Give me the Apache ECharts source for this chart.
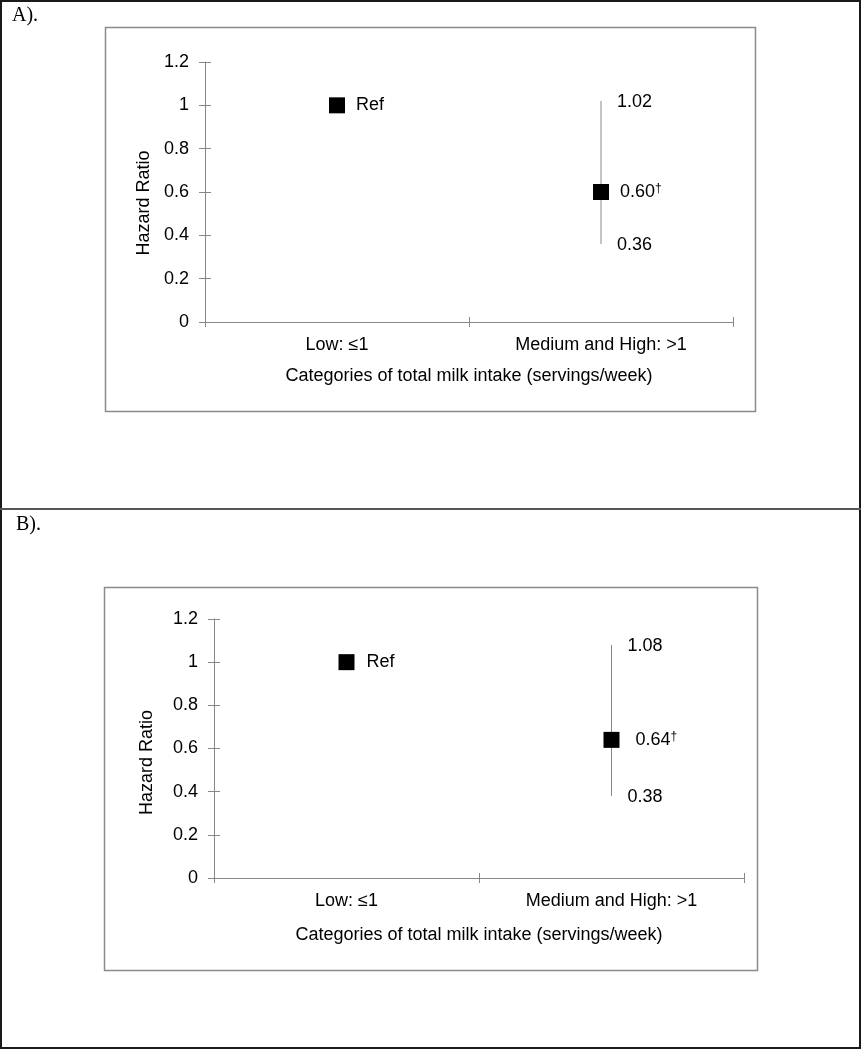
<!DOCTYPE html>
<html>
<head>
<meta charset="utf-8">
<script src="https://cdn.jsdelivr.net/npm/echarts@6/dist/echarts.min.js"></script>
<style>
  html, body { margin: 0; padding: 0; background: #fff; }
  #chart { width: 862px; height: 1050px; }
</style>
</head>
<body>
<div id="chart"></div>
<script>
// ---- data ----
const categories = ['Low: ≤1', 'Medium and High: >1'];
const yTicks = [0, 0.2, 0.4, 0.6, 0.8, 1, 1.2];
const xTitle = 'Categories of total milk intake (servings/week)';
const yTitle = 'Hazard Ratio';
const panelTitles = ['A).', 'B).'];

const hrA = [1, 0.60];
const lowerA = [null, 0.36];
const upperA = [null, 1.02];
const pointLabelsA = ['Ref', '0.60{sup|†}'];

const hrB = [1, 0.64];
const lowerB = [null, 0.38];
const upperB = [null, 1.08];
const pointLabelsB = ['Ref', '0.64{sup|†}'];

// ---- styling ----
const FONT = 'Liberation Sans, Arial, sans-serif';
const FS = 18;
const AXIS_COLOR = '#878787';

const chart = echarts.init(document.getElementById('chart'), null, { renderer: 'canvas' });

const panels = [
  { hr: hrA, lo: lowerA, hi: upperA, labels: pointLabelsA,
    grid: { left: 205, top: 62, width: 528, height: 260 },
    yNameGap: 50, yNamePad: [0, 22, 0, 0], xNameGap: 45, labelDist: [11, 11] },
  { hr: hrB, lo: lowerB, hi: upperB, labels: pointLabelsB,
    grid: { left: 214, top: 619, width: 530, height: 259 },
    yNameGap: 58, yNamePad: [0, 28, 0, 0], xNameGap: 48, labelDist: [12, 16] }
];

const grids = [], xAxes = [], yAxes = [], series = [];

panels.forEach((p, k) => {
  grids.push(Object.assign({ containLabel: false }, p.grid));
  // main x axis (ticks outward, labels, name)
  xAxes.push({
    gridIndex: k, type: 'category', data: categories, position: 'bottom',
    boundaryGap: true,
    axisLine: { show: true, lineStyle: { color: AXIS_COLOR, width: 1 } },
    axisTick: { show: true, inside: false, length: 5, alignWithLabel: false, lineStyle: { color: AXIS_COLOR } },
    axisLabel: { color: '#000', fontFamily: FONT, fontSize: FS, margin: 14 },
    splitLine: { show: false },
    name: xTitle, nameLocation: 'middle', nameGap: p.xNameGap,
    nameTextStyle: { color: '#000', fontFamily: FONT, fontSize: FS }
  });
  // companion x axis for the inward half of the cross ticks
  xAxes.push({
    gridIndex: k, type: 'category', data: categories, position: 'bottom',
    boundaryGap: true,
    axisLine: { show: false },
    axisTick: { show: true, inside: true, length: 5, alignWithLabel: false, lineStyle: { color: AXIS_COLOR } },
    axisLabel: { show: false }, splitLine: { show: false }
  });
  yAxes.push({
    gridIndex: k, type: 'value', min: yTicks[0], max: yTicks[yTicks.length - 1], interval: 0.2,
    position: 'left',
    axisLine: { show: true, lineStyle: { color: AXIS_COLOR, width: 1 } },
    axisTick: { show: true, inside: false, length: 6, lineStyle: { color: AXIS_COLOR } },
    axisLabel: { color: '#000', fontFamily: FONT, fontSize: FS, margin: 16 },
    splitLine: { show: false },
    name: yTitle, nameLocation: 'middle', nameRotate: 90, nameGap: p.yNameGap,
    nameTextStyle: { color: '#000', fontFamily: FONT, fontSize: FS, padding: p.yNamePad }
  });
  yAxes.push({
    gridIndex: k, type: 'value', min: yTicks[0], max: yTicks[yTicks.length - 1], interval: 0.2,
    position: 'left', offset: 0,
    axisLine: { show: false },
    axisTick: { show: true, inside: true, length: 6, lineStyle: { color: AXIS_COLOR } },
    axisLabel: { show: false }, splitLine: { show: false }
  });

  // error bars with bound labels
  const ciData = [];
  p.hr.forEach((v, i) => {
    if (p.lo[i] != null && p.hi[i] != null) ciData.push([i, p.lo[i], p.hi[i]]);
  });
  series.push({
    type: 'custom', xAxisIndex: 2 * k, yAxisIndex: 2 * k, z: 2,
    data: ciData, encode: { x: 0, y: [1, 2] },
    renderItem: function (params, api) {
      const i = api.value(0), lo = api.value(1), hi = api.value(2);
      const pLo = api.coord([i, lo]);
      const pHi = api.coord([i, hi]);
      const txt = { fill: '#000', fontFamily: FONT, fontSize: FS, verticalAlign: 'middle', align: 'left' };
      return {
        type: 'group',
        children: [
          { type: 'line', shape: { x1: pLo[0], y1: pLo[1], x2: pHi[0], y2: pHi[1] },
            style: { stroke: AXIS_COLOR, lineWidth: 1 } },
          { type: 'text', x: pHi[0] + 16, y: pHi[1] + 1,
            style: Object.assign({ text: hi.toFixed(2) }, txt) },
          { type: 'text', x: pLo[0] + 16, y: pLo[1] + 1,
            style: Object.assign({ text: lo.toFixed(2) }, txt) }
        ]
      };
    }
  });

  // point estimates
  series.push({
    type: 'scatter', xAxisIndex: 2 * k, yAxisIndex: 2 * k, z: 3,
    symbol: 'rect', symbolSize: 16,
    itemStyle: { color: '#000', opacity: 1 },
    emphasis: { disabled: true },
    data: p.hr.map((v, i) => ({
      value: [i, v],
      label: {
        show: true, position: 'right', distance: p.labelDist[i],
        formatter: p.labels[i],
        color: '#000', opacity: 1, fontFamily: FONT, fontSize: FS,
        rich: { sup: { fontFamily: FONT, fontSize: 12, verticalAlign: 'top', padding: [0, 0, 7, 0], color: '#000' } }
      }
    }))
  });
});

const graphic = [
  // outer frame
  { type: 'rect', shape: { x: 1, y: 1, width: 859, height: 1047 },
    style: { fill: 'none', stroke: '#1a1a1a', lineWidth: 2 }, silent: true },
  // divider between panels
  { type: 'line', shape: { x1: 0, y1: 509, x2: 861, y2: 509 },
    style: { stroke: '#555', lineWidth: 2 }, silent: true },
  // inner boxes
  { type: 'rect', shape: { x: 105.5, y: 27.5, width: 650, height: 384 },
    style: { fill: 'none', stroke: '#8a8a8a', lineWidth: 1.5 }, silent: true },
  { type: 'rect', shape: { x: 104.5, y: 587.5, width: 653, height: 383 },
    style: { fill: 'none', stroke: '#8a8a8a', lineWidth: 1.5 }, silent: true },
  // panel titles
  { type: 'text', x: 12, y: 16, style: { text: panelTitles[0], fill: '#000',
      font: '20px "Liberation Serif", "Times New Roman", serif', verticalAlign: 'middle' } },
  { type: 'text', x: 16, y: 525, style: { text: panelTitles[1], fill: '#000',
      font: '20px "Liberation Serif", "Times New Roman", serif', verticalAlign: 'middle' } }
];

chart.setOption({
  animation: false,
  backgroundColor: '#fff',
  grid: grids,
  xAxis: xAxes,
  yAxis: yAxes,
  series: series,
  graphic: graphic
});
</script>
</body>
</html>
